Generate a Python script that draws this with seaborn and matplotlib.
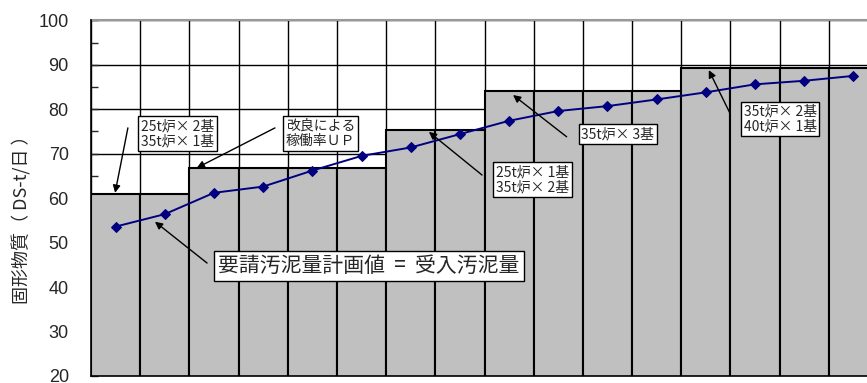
import numpy as np
import pandas as pd
import matplotlib
matplotlib.use("Agg")
import matplotlib.pyplot as plt
import seaborn as sns

# ─────────────────────────────────────────────
# DATA
# ─────────────────────────────────────────────
periods = [str(i) for i in range(1, 17)]

# 施設能力 (bars)
capacity = [60.9, 60.9, 66.7, 66.7, 66.7, 66.7, 75.3, 75.3,
            84.2, 84.2, 84.2, 84.2, 89.2, 89.2, 89.2, 89.2]

# 要請汚泥量計画値 (line)
demand = [53.6, 56.4, 61.2, 62.6, 66.2, 69.5, 71.4, 74.4,
          77.4, 79.6, 80.7, 82.2, 83.8, 85.6, 86.4, 87.5]

y_ticks = [20, 30, 40, 50, 60, 70, 80, 90, 100]
y_label = "固形物質（ DS-t/日 ）"

# text, box centre (x, y), arrow head, arrow tail, font size
notes = [
    ("25t炉× 2基\n35t炉× 1基", (1.26, 74.5), (-0.01, 61.2), (0.25, 75.8), 10),
    ("改良による\n稼働率ＵＰ", (4.16, 74.6), (1.65, 66.8), (3.24, 75.8), 10),
    ("要請汚泥量計画値  =  受入汚泥量", (5.15, 44.8), (0.80, 54.7), (1.86, 45.4), 15),
    ("25t炉× 1基\n35t炉× 2基", (8.47, 64.2), (6.37, 74.9), (7.45, 65.2), 10),
    ("35t炉× 3基", (10.21, 74.4), (8.08, 83.2), (9.17, 73.8), 10),
    ("35t炉× 2基\n40t炉× 1基", (13.51, 77.8), (12.06, 88.8), (12.49, 79.1), 10),
]

df = pd.DataFrame({"period": periods, "capacity": capacity, "demand": demand})

# ─────────────────────────────────────────────
# PLOT
# ─────────────────────────────────────────────
sns.set_style("white")
plt.rcParams["font.family"] = ["Liberation Sans", "Noto Sans CJK JP", "DejaVu Sans"]
jp = ["Noto Sans CJK JP", "DejaVu Sans"]

fig = plt.figure(figsize=(8.67, 3.83), dpi=100)
W, H = 867, 383
ax = fig.add_axes([91 / W, 7 / H, 787 / W, 355.7 / H])

sns.barplot(data=df, x="period", y="capacity", color="#C0C0C0", saturation=1,
            edgecolor="black", linewidth=1.5, width=1.0, ax=ax, zorder=2)

sns.lineplot(x=np.arange(len(demand)), y=df["demand"], color="#000080",
             marker="D", markersize=5.5, markeredgecolor="#000080",
             linewidth=1.4, ax=ax, zorder=3)

ax.set_xlim(-0.5, len(periods) - 0.5)
ax.set_ylim(20, 100)
ax.set_yticks(y_ticks)
ax.set_yticks(np.arange(25, 100, 10), minor=True)
ax.set_xticks(np.arange(-0.5, len(periods), 1))
ax.set_xticklabels([])
ax.set_xlabel("")
ax.set_ylabel("")

ax.grid(True, which="major", axis="both", color="black", linewidth=1.0, zorder=0)
ax.set_axisbelow(True)
ax.tick_params(axis="x", length=0)
ax.tick_params(axis="y", which="both", direction="in", length=5, width=1,
               labelsize=13, pad=16, left=True)

for side in ["top", "right"]:
    ax.spines[side].set_visible(False)
ax.spines["left"].set_color("black")
ax.spines["bottom"].set_color("black")
ax.spines["left"].set_linewidth(1.2)
ax.spines["bottom"].set_linewidth(1.2)
ax.axhline(100, color="#999999", linewidth=1.5, zorder=1, clip_on=False)

# annotations
for text, (tx, ty), head, tail, fs in notes:
    ax.annotate("", xy=head, xytext=tail,
                arrowprops=dict(arrowstyle="-|>", color="black", lw=1.0,
                                mutation_scale=11, shrinkA=0, shrinkB=0),
                zorder=5)
    ax.text(tx, ty, text, ha="center", va="center", fontsize=fs, family=jp,
            linespacing=1.1, zorder=6,
            bbox=dict(boxstyle="square,pad=0.2", fc="white", ec="black", lw=1.0))

fig.text(22 / W, 1 - 215 / H, y_label, rotation=90, ha="center", va="center",
         fontsize=13, family=jp)

fig.savefig("out.png", dpi=100)
